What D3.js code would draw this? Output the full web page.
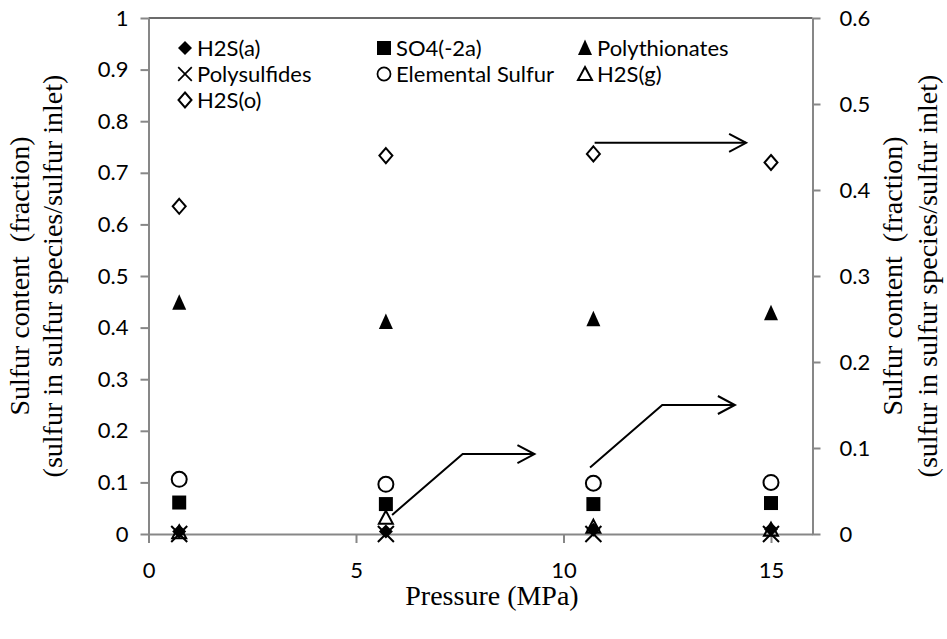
<!DOCTYPE html>
<html>
<head>
<meta charset="utf-8">
<script src="https://cdn.jsdelivr.net/npm/d3@7"></script>
<style>
  body { margin: 0; background: #fff; }
  svg { display: block; }
  .tick-label { font-family: Lato, "Open Sans", sans-serif; font-size: 22px; fill: #000; }
  .legend text { font-family: Lato, "Open Sans", sans-serif; font-size: 22px; fill: #000; }
  .title { font-family: "Liberation Serif", "DejaVu Serif", serif; font-size: 28px; fill: #000; }
</style>
</head>
<body>
<svg width="947" height="639"></svg>
<script>
// set global constants
const svg = d3.select("svg");

const pressure = [0.74, 5.72, 10.72, 15.0];

// left axis series (fraction)
const h2sA = [0.005, 0.005, 0.008, 0.009];
const so4 = [0.061, 0.058, 0.058, 0.060];
const polythionates = [0.448, 0.411, 0.416, 0.428];
const polysulfides = [0, 0, 0, 0];

// right axis series (fraction)
const elementalSulfur = [0.0636, 0.0578, 0.059, 0.060];
const h2sG = [0.002, 0.019, 0.0085, 0.005];
const h2sO = [0.381, 0.44, 0.442, 0.432];

const xTicks = [0, 5, 10, 15];
const leftTicks = d3.range(0, 11).map(d => d / 10);
const rightTicks = d3.range(0, 7).map(d => d / 10);

// arrow annotations, in pressure / left axis units
const arrows = [
  [[5.87, 0.037], [7.57, 0.155], [9.3, 0.155]],
  [[10.64, 0.129], [12.38, 0.25], [14.13, 0.25]],
  [[10.75, 0.758], [14.4, 0.758]]
];

const series = [
  { name: "H2S(a)", values: h2sA, axis: "left", shape: "diamond", fill: true },
  { name: "SO4(-2a)", values: so4, axis: "left", shape: "square", fill: true },
  { name: "Polythionates", values: polythionates, axis: "left", shape: "triangle", fill: true },
  { name: "Polysulfides", values: polysulfides, axis: "left", shape: "cross", fill: false },
  { name: "Elemental Sulfur", values: elementalSulfur, axis: "right", shape: "circle", fill: false },
  { name: "H2S(g)", values: h2sG, axis: "right", shape: "triangleOpen", fill: false },
  { name: "H2S(o)", values: h2sO, axis: "right", shape: "diamondOpen", fill: false }
];

const x = d3.scaleLinear().domain([0, 16]).range([148.5, 812.5]);
const yLeft = d3.scaleLinear().domain([0, 1]).range([534, 18]);
const yRight = d3.scaleLinear().domain([0, 0.6]).range([534, 18]);

const axisColor = "#878787";

// marker path centred on 0,0
function shape(type) {
  switch (type) {
    case "diamond": return "M0,-7L7,0L0,7L-7,0Z";
    case "diamondOpen": return "M0,-7.5L6.5,0L0,7.5L-6.5,0Z";
    case "square": return "M-7,-7H7V7H-7Z";
    case "triangle": return "M0,-8.5L7,7L-7,7Z";
    case "triangleOpen": return "M0,-7L7,6L-7,6Z";
    case "cross": return "M-8,-8L8,8M8,-8L-8,8";
    case "circle": return d3.arc()({ innerRadius: 0, outerRadius: 7.5, startAngle: 0, endAngle: 2 * Math.PI });
  }
}

function styleMarker(sel, s) {
  sel.attr("d", shape(s.shape))
    .attr("fill", s.fill ? "#000" : "none")
    .attr("stroke", "#000")
    .attr("stroke-width", s.fill ? 0 : 2);
}

// top border
svg.append("line")
  .attr("x1", x(0)).attr("x2", x(16))
  .attr("y1", yLeft(1)).attr("y2", yLeft(1))
  .attr("stroke", "#3a3a3a")
  .attr("stroke-width", 1.5);

// bottom axis
const xAxis = svg.append("g")
  .attr("transform", "translate(0," + yLeft(0) + ")")
  .call(d3.axisBottom(x).tickValues(xTicks).tickSize(9).tickSizeOuter(0).tickPadding(19));

// left axis
const leftAxis = svg.append("g")
  .attr("transform", "translate(" + x(0) + ",0)")
  .call(d3.axisLeft(yLeft).tickValues(leftTicks).tickSize(8).tickSizeOuter(0).tickPadding(12)
    .tickFormat(d => d3.format("")(+d.toFixed(1))));

// right axis
const rightAxis = svg.append("g")
  .attr("transform", "translate(" + x(16) + ",0)")
  .call(d3.axisRight(yRight).tickValues(rightTicks).tickSize(8).tickSizeOuter(0).tickPadding(19)
    .tickFormat(d => d3.format("")(+d.toFixed(1))));

[xAxis, leftAxis, rightAxis].forEach(g => {
  g.select(".domain").attr("stroke", axisColor).attr("stroke-width", 2);
  g.selectAll(".tick line").attr("stroke", axisColor).attr("stroke-width", 2);
  g.selectAll(".tick text").attr("class", "tick-label").attr("font-size", null).attr("font-family", null);
});
xAxis.selectAll(".tick text").attr("dy", "0.71em");

// axis titles
svg.append("text")
  .attr("class", "title")
  .attr("x", 492)
  .attr("y", 605)
  .attr("text-anchor", "middle")
  .text("Pressure (MPa)");

const yMid = (yLeft(0) + yLeft(1)) / 2;
const titleLines = ["Sulfur content\u00a0 (fraction)", "(sulfur in sulfur species/sulfur inlet)"];

[29, 62].forEach((bx, i) => {
  svg.append("text")
    .attr("class", "title")
    .attr("text-anchor", "middle")
    .attr("transform", "translate(" + bx + "," + yMid + ") rotate(-90)")
    .text(titleLines[i]);
});

[902, 937].forEach((bx, i) => {
  svg.append("text")
    .attr("class", "title")
    .attr("text-anchor", "middle")
    .attr("transform", "translate(" + bx + "," + yMid + ") rotate(-90)")
    .text(titleLines[i]);
});

// arrows
const line = d3.line().x(d => x(d[0])).y(d => yLeft(d[1]));
arrows.forEach(pts => {
  svg.append("path")
    .attr("d", line(pts))
    .attr("fill", "none")
    .attr("stroke", "#000")
    .attr("stroke-width", 2);
  const tip = pts[pts.length - 1];
  const tx = x(tip[0]), ty = yLeft(tip[1]);
  svg.append("path")
    .attr("d", "M" + (tx - 17) + "," + (ty - 9) + "L" + tx + "," + ty + "L" + (tx - 17) + "," + (ty + 9))
    .attr("fill", "none")
    .attr("stroke", "#000")
    .attr("stroke-width", 2);
});

// markers
series.forEach(s => {
  const yScale = s.axis === "left" ? yLeft : yRight;
  svg.append("g")
    .selectAll("path")
    .data(s.values)
    .enter()
    .append("path")
    .attr("transform", (d, i) => "translate(" + x(pressure[i]) + "," + yScale(d) + ")")
    .call(sel => styleMarker(sel, s));
});

// legend
const legendCols = [185, 384, 585];
const legendRows = [48, 74, 100];

const legend = svg.append("g")
  .attr("class", "legend")
  .selectAll("g")
  .data(series)
  .enter()
  .append("g")
  .attr("transform", (d, i) => "translate(" + legendCols[i % 3] + "," + legendRows[Math.floor(i / 3)] + ")");

legend.append("path")
  .each(function(d) {
    d3.select(this).call(sel => styleMarker(sel, d));
  })
  .attr("transform", d => d.shape === "circle" ? "scale(0.87)" : (d.shape === "cross" ? "scale(0.85)" : null));

legend.append("text")
  .attr("x", 12)
  .attr("dy", "0.35em")
  .text(d => d.name);
</script>
</body>
</html>
